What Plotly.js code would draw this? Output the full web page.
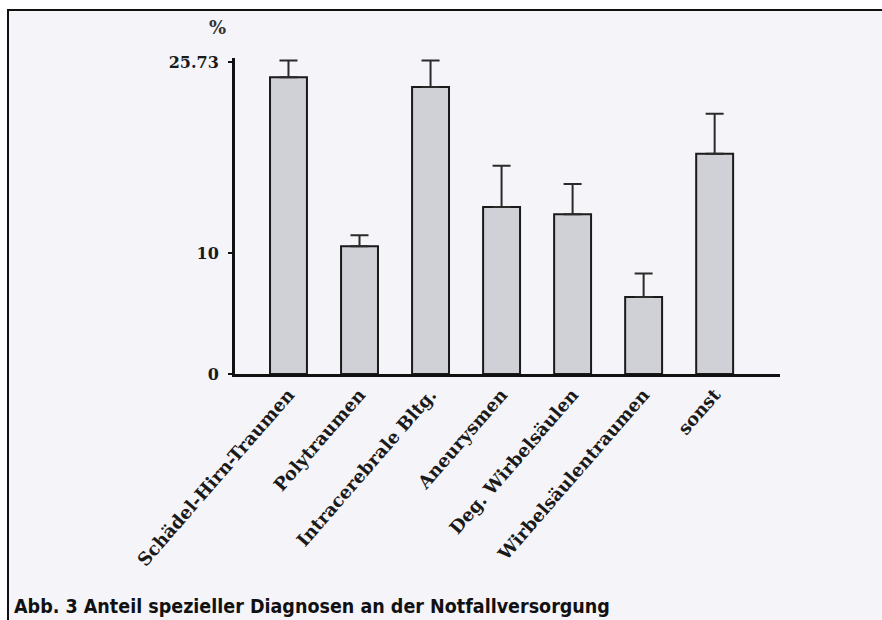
<!DOCTYPE html>
<html>
<head>
<meta charset="utf-8">
<script src="https://cdn.plot.ly/plotly-3.0.1.min.js"></script>
<style>html,body{margin:0;padding:0;background:#fff;}#chart{width:882px;height:620px;}</style>
</head>
<body>
<div id="chart"></div>
<script>
const categories = ["Schädel-Hirn-Traumen","Polytraumen","Intracerebrale Bltg.","Aneurysmen","Deg. Wirbelsäulen","Wirbelsäulentraumen","sonst"];
const values = [24.5, 10.55, 23.7, 13.8, 13.2, 6.35, 18.2];
const errorsUp = [1.4, 0.9, 2.2, 3.4, 2.5, 1.95, 3.3];
const errorsDown = [0, 0, 0, 0, 0, 0, 0];
const yTickVals = [0, 10, 25.73];
const yTickText = ["0", "10", "25.73"];
const yUnit = "%";
const caption = "Abb. 3 Anteil spezieller Diagnosen an der Notfallversorgung";

// plot area in pixels
const W = 882, H = 620;
const L = 235, R = 780, T = 58, B = 374;
const px = x => (x - L) / (R - L);
const py = y => (B - y) / (B - T);

const serif = "'DejaVu Serif', 'Liberation Serif', serif";

const trace = {
  type: "bar",
  x: categories,
  y: values,
  width: 0.52,
  marker: {color: "#d0d0d7", line: {color: "#1a1a1a", width: 2}},
  error_y: {type: "data", symmetric: false, array: errorsUp, arrayminus: errorsDown,
            color: "#2a2a2a", thickness: 2, width: 9},
  hoverinfo: "x+y"
};

const layout = {
  width: W, height: H,
  margin: {l: L, r: W - R, t: T, b: H - B, pad: 0},
  paper_bgcolor: "#ffffff",
  plot_bgcolor: "rgba(0,0,0,0)",
  showlegend: false,
  xaxis: {
    type: "category",
    range: [-0.753, 6.92],
    showline: true, linecolor: "#111", linewidth: 3,
    ticks: "", tickangle: -49,
    showgrid: false, zeroline: false,
    tickfont: {family: serif, size: 18, color: "#1a1a1a", weight: "bold"}
  },
  yaxis: {
    range: [0, 26.1],
    tickmode: "array", tickvals: yTickVals, ticktext: yTickText,
    showline: true, linecolor: "#111", linewidth: 3,
    ticks: "outside", ticklen: 4, tickwidth: 2, tickcolor: "#111",
    ticklabelstandoff: 6,
    showgrid: false, zeroline: false,
    tickfont: {family: serif, size: 16, color: "#1a1a1a", weight: "bold"}
  },
  shapes: [{
    type: "rect", xref: "paper", yref: "paper", layer: "below",
    x0: px(8), x1: px(900), y0: py(650), y1: py(10),
    fillcolor: "#f4f4f9", line: {color: "#111", width: 2}
  }],
  annotations: [
    {xref: "paper", yref: "paper", x: px(217), y: py(28), text: yUnit, showarrow: false,
     xanchor: "center", yanchor: "middle",
     font: {family: serif, size: 18, color: "#333", weight: "bold"}},
    {xref: "paper", yref: "paper", x: px(12), y: py(606), text: "<b>" + caption + "</b>", showarrow: false,
     xanchor: "left", yanchor: "middle",
     font: {family: "'DejaVu Sans Condensed', 'Liberation Sans Narrow', 'Roboto', sans-serif", size: 19.5, color: "#111"}}
  ]
};

Plotly.newPlot("chart", [trace], layout, {displayModeBar: false, staticPlot: true});
</script>
</body>
</html>
